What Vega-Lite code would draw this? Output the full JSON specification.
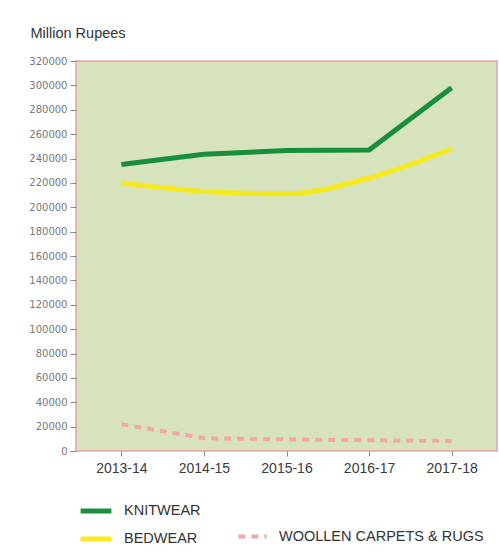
{
  "$schema": "https://vega.github.io/schema/vega-lite/v6.json",
  "width": 421,
  "height": 390,
  "autosize": {"type": "none"},
  "padding": {"left": 76, "top": 61, "right": 2, "bottom": 101},
  "background": "#ffffff",
  "config": {
    "view": {"fill": "#d6e3bd", "stroke": "#e2a3ab", "strokeWidth": 1.5},
    "font": "Liberation Sans"
  },
  "data": {
    "values": [
      {"year": "2013-14", "series": "KNITWEAR", "value": 235000},
      {"year": "2014-15", "series": "KNITWEAR", "value": 243500},
      {"year": "2015-16", "series": "KNITWEAR", "value": 246500},
      {"year": "2016-17", "series": "KNITWEAR", "value": 247000},
      {"year": "2017-18", "series": "KNITWEAR", "value": 298000},
      {"year": "2013-14", "series": "BEDWEAR", "value": 220000},
      {"year": "2014-15", "series": "BEDWEAR", "value": 213000},
      {"year": "2015-16", "series": "BEDWEAR", "value": 211000},
      {"year": "2016-17", "series": "BEDWEAR", "value": 224000},
      {"year": "2017-18", "series": "BEDWEAR", "value": 248000},
      {"year": "2013-14", "series": "WOOLLEN CARPETS & RUGS", "value": 22000},
      {"year": "2014-15", "series": "WOOLLEN CARPETS & RUGS", "value": 10500},
      {"year": "2015-16", "series": "WOOLLEN CARPETS & RUGS", "value": 9500},
      {"year": "2016-17", "series": "WOOLLEN CARPETS & RUGS", "value": 8800},
      {"year": "2017-18", "series": "WOOLLEN CARPETS & RUGS", "value": 8300}
    ]
  },
  "encoding": {
    "x": {
      "field": "year", "type": "ordinal",
      "scale": {"type": "point", "padding": 0.55},
      "axis": {
        "title": null, "labelAngle": 0, "labelFontSize": 14, "labelColor": "#3a3a3a",
        "labelPadding": 5, "tickColor": "#888888", "tickSize": 5, "domain": false, "grid": false
      }
    },
    "y": {
      "field": "value", "type": "quantitative",
      "scale": {"domain": [0, 320000], "nice": false},
      "axis": {
        "values": [0, 20000, 40000, 60000, 80000, 100000, 120000, 140000, 160000, 180000, 200000, 220000, 240000, 260000, 280000, 300000, 320000],
        "format": "d", "grid": false, "domain": false,
        "labelFontSize": 10, "labelFont": "DejaVu Sans", "labelColor": "#777777",
        "tickColor": "#888888", "tickSize": 6, "labelPadding": 3,
        "title": "Million Rupees", "titleAngle": 0, "titleAlign": "left", "titleBaseline": "middle",
        "titleX": -46, "titleY": -28, "titleFontSize": 14.5, "titleFontWeight": "normal", "titleColor": "#333333"
      }
    },
    "color": {
      "field": "series", "type": "nominal",
      "scale": {"domain": ["KNITWEAR", "BEDWEAR"], "range": ["#178f3c", "#f6ea1e"]},
      "legend": {
        "title": null, "orient": "none", "legendX": 2, "legendY": 432,
        "direction": "vertical", "symbolType": "stroke", "symbolSize": 950,
        "symbolStrokeWidth": 5, "labelFontSize": 14.5, "labelColor": "#333333",
        "rowPadding": -6, "labelOffset": 10, "labelLimit": 300
      }
    }
  },
  "layer": [
    {
      "transform": [{"filter": "datum.series === 'KNITWEAR'"}],
      "mark": {"type": "line", "strokeWidth": 5}
    },
    {
      "transform": [{"filter": "datum.series === 'BEDWEAR'"}],
      "mark": {"type": "line", "strokeWidth": 5, "interpolate": "monotone"}
    },
    {
      "transform": [{"filter": "datum.series === 'WOOLLEN CARPETS & RUGS'"}],
      "mark": {"type": "line", "strokeWidth": 4, "color": "#f2a6a6"},
      "encoding": {
        "color": null,
        "strokeDash": {
          "field": "series", "type": "nominal",
          "scale": {"domain": ["WOOLLEN CARPETS & RUGS"], "range": [[7, 6]]},
          "legend": {
            "title": null, "orient": "none", "legendX": 160, "legendY": 459,
            "symbolType": "stroke", "symbolSize": 800, "symbolStrokeWidth": 4,
            "symbolStrokeColor": "#f2a6a6",
            "labelFontSize": 14.5, "labelColor": "#333333", "labelOffset": 10, "labelLimit": 400
          }
        }
      }
    }
  ]
}
